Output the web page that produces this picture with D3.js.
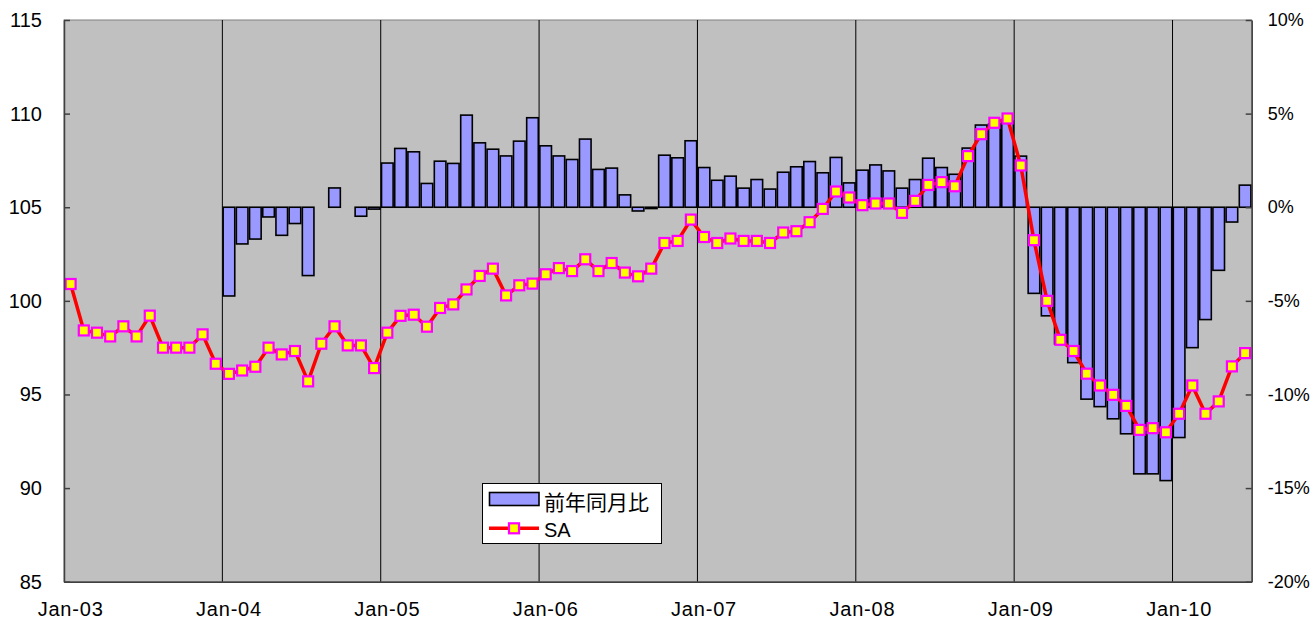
<!DOCTYPE html>
<html>
<head>
<meta charset="utf-8">
<title>SA / 前年同月比</title>
<script src="https://d3js.org/d3.v7.min.js"></script>
<style>
  body { margin: 0; background: #fff; }
  text { font-family: "Liberation Sans", Arial, "Noto Sans CJK JP", sans-serif; }
</style>
</head>
<body>
<script>
// monthly categories Jan-03 .. Jun-10
var months = d3.timeMonth.range(new Date(2003, 0, 1), new Date(2010, 6, 1));

// 前年同月比 (%), null = no bar
var yoy = [
  null, null, null, null, null, null, null, null, null, null, null, null,
  -4.74, -1.96, -1.70, -0.52, -1.50, -0.87, -3.65, null, 1.03, null, -0.48, -0.10,
  2.36, 3.14, 2.96, 1.27, 2.46, 2.34, 4.92, 3.44, 3.10, 2.74, 3.53, 4.78,
  3.28, 2.74, 2.55, 3.64, 2.02, 2.09, 0.66, -0.20, -0.07, 2.78, 2.64, 3.55,
  2.12, 1.44, 1.66, 1.02, 1.48, 0.97, 1.87, 2.16, 2.44, 1.84, 2.66, 1.30,
  1.98, 2.26, 1.94, 1.02, 1.48, 2.62, 2.12, 1.76, 3.16, 4.39, 4.45, 4.60,
  2.73, -4.60, -5.80, -7.30, -8.30, -10.25, -10.65, -11.30, -12.10, -14.24, -14.24, -14.60,
  -12.30, -7.50, -6.00, -3.37, -0.79, 1.18
];

// SA index
var sa = [
  100.90, 98.42, 98.30, 98.10, 98.64, 98.10, 99.21, 97.50, 97.50, 97.50, 98.21, 96.64,
  96.10, 96.28, 96.48, 97.50, 97.14, 97.32, 95.70, 97.71, 98.64, 97.62, 97.62, 96.41,
  98.30, 99.20, 99.26, 98.62, 99.62, 99.81, 100.61, 101.33, 101.72, 100.29, 100.83, 100.92,
  101.42, 101.75, 101.59, 102.22, 101.59, 102.02, 101.51, 101.31, 101.72, 103.09, 103.20, 104.34,
  103.41, 103.09, 103.33, 103.20, 103.20, 103.09, 103.65, 103.72, 104.20, 104.91, 105.84, 105.52,
  105.11, 105.20, 105.20, 104.70, 105.34, 106.19, 106.34, 106.12, 107.73, 108.90, 109.51, 109.74,
  107.23, 103.24, 100.00, 97.92, 97.32, 96.11, 95.48, 94.98, 94.39, 93.11, 93.20, 92.98,
  93.97, 95.48, 93.97, 94.63, 96.50, 97.21
];

var leftTicks = [85, 90, 95, 100, 105, 110, 115];
var rightTicks = [-20, -15, -10, -5, 0, 5, 10];
var xTickLabels = ["Jan-03", "Jan-04", "Jan-05", "Jan-06", "Jan-07", "Jan-08", "Jan-09", "Jan-10"];

var width = 1311, height = 619;
var pL = 64, pR = 1251.7, pT = 20, pB = 581.7;

var svg = d3.select("body").append("svg")
    .attr("width", width)
    .attr("height", height);

var x = d3.scaleBand().domain(d3.range(months.length)).range([pL, pR]);
var yL = d3.scaleLinear().domain([85, 115]).range([pB, pT]);
var yR = d3.scaleLinear().domain([-20, 10]).range([pB, pT]);
var step = x.step();

// plot area
svg.append("rect")
    .attr("x", pL).attr("y", pT)
    .attr("width", pR - pL).attr("height", pB - pT)
    .attr("fill", "#c0c0c0")
    .attr("stroke", "#808080").attr("stroke-width", 1);

// yearly gridlines
var janIdx = d3.range(months.length).filter(function(i) { return months[i].getMonth() === 0; });
svg.append("g").selectAll("line")
    .data(janIdx.filter(function(i) { return i > 0; }))
    .enter().append("line")
    .attr("x1", function(i) { return x(i); }).attr("x2", function(i) { return x(i); })
    .attr("y1", pT).attr("y2", pB)
    .attr("stroke", "#000").attr("stroke-width", 1);

// bars
var barW = 11.6;
svg.append("g").selectAll("rect")
    .data(yoy.map(function(v, i) { return {i: i, v: v}; }).filter(function(d) { return d.v !== null; }))
    .enter().append("rect")
    .attr("x", function(d) { return x(d.i) + (step - barW) / 2; })
    .attr("y", function(d) { return yR(Math.max(d.v, 0)); })
    .attr("width", barW)
    .attr("height", function(d) { return Math.abs(yR(d.v) - yR(0)); })
    .attr("fill", "#9999ff")
    .attr("stroke", "#000").attr("stroke-width", 1.6);

// SA line
var line = d3.line()
    .x(function(d, i) { return x(i) + step / 2; })
    .y(function(d) { return yL(d); });

svg.append("path")
    .datum(sa)
    .attr("d", line)
    .attr("fill", "none")
    .attr("stroke", "#ff0000").attr("stroke-width", 3.5)
    .attr("stroke-linejoin", "round");

var mk = 10;
svg.append("g").selectAll("rect")
    .data(sa)
    .enter().append("rect")
    .attr("x", function(d, i) { return x(i) + step / 2 - mk / 2; })
    .attr("y", function(d) { return yL(d) - mk / 2; })
    .attr("width", mk).attr("height", mk)
    .attr("fill", "#ffff00")
    .attr("stroke", "#ff00ff").attr("stroke-width", 2.2);

// axes
var axL = svg.append("g")
    .attr("transform", "translate(" + pL + ",0)")
    .call(d3.axisLeft(yL).tickValues(leftTicks).tickSize(-6).tickSizeOuter(0).tickPadding(22));
var axR = svg.append("g")
    .attr("transform", "translate(" + pR + ",0)")
    .call(d3.axisRight(yR).tickValues(rightTicks).tickSize(-6).tickSizeOuter(0).tickPadding(16)
      .tickFormat(function(d) { return d + "%"; }));
var axB = svg.append("g")
    .attr("transform", "translate(0," + pB + ")")
    .call(d3.axisBottom(x).tickValues(janIdx).tickSize(0).tickSizeOuter(0).tickPadding(20)
      .tickFormat(function(i) { return xTickLabels[janIdx.indexOf(i)]; }));

[axL, axR, axB].forEach(function(g) {
  g.select(".domain").attr("stroke", "#404040").attr("stroke-width", 1.5);
  g.selectAll(".tick line").attr("stroke", "#404040").attr("stroke-width", 1.5);
  g.selectAll("text")
    .attr("fill", "#000")
    .style("font-family", "'Liberation Sans', Arial, sans-serif")
    .style("font-size", "20px");
});
axR.selectAll("text").style("font-size", "18px");
axB.selectAll("text").style("letter-spacing", "0.8px");

// legend
var lg = svg.append("g");
lg.append("rect")
    .attr("x", 482.5).attr("y", 483.5).attr("width", 179).attr("height", 60)
    .attr("fill", "#fff").attr("stroke", "#000").attr("stroke-width", 1);
lg.append("rect")
    .attr("x", 489.5).attr("y", 492.5).attr("width", 49.5).attr("height", 13)
    .attr("fill", "#9999ff").attr("stroke", "#000").attr("stroke-width", 1.6);
lg.append("text")
    .attr("x", 544).attr("y", 509.5)
    .style("font-size", "21px")
    .text("前年同月比");
lg.append("line")
    .attr("x1", 489).attr("x2", 539).attr("y1", 528.3).attr("y2", 528.3)
    .attr("stroke", "#ff0000").attr("stroke-width", 3.5);
lg.append("rect")
    .attr("x", 514 - mk / 2).attr("y", 528.3 - mk / 2).attr("width", mk).attr("height", mk)
    .attr("fill", "#ffff00").attr("stroke", "#ff00ff").attr("stroke-width", 2.2);
lg.append("text")
    .attr("x", 544).attr("y", 537)
    .style("font-size", "20px")
    .text("SA");
</script>
</body>
</html>
